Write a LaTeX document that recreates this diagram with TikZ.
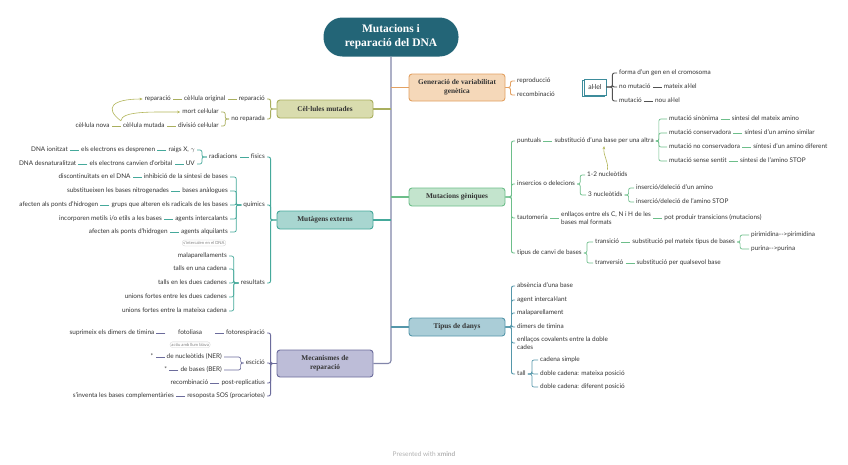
\documentclass[tikz,border=0pt]{standalone}
\usepackage{fontspec}
\setmainfont{Lato}[Ligatures={TeX,NoCommon}]
\newfontfamily\slabfont{Liberation Serif}
\usepackage{tikz}
\usetikzlibrary{positioning, arrows.meta, shadows}

\definecolor{txt}{HTML}{333333}
\definecolor{rootfill}{HTML}{236577}
\definecolor{trunk}{HTML}{8286AA}
\definecolor{genfill}{HTML}{F5D8B9}
\definecolor{gendraw}{HTML}{E3A162}
\definecolor{celfill}{HTML}{D9DCAE}
\definecolor{celdraw}{HTML}{A9AF5E}
\definecolor{mutfill}{HTML}{A8D6D0}
\definecolor{mutdraw}{HTML}{45A99B}
\definecolor{gnqfill}{HTML}{C3E4CD}
\definecolor{gnqdraw}{HTML}{6DBE8A}
\definecolor{tipfill}{HTML}{AACDD7}
\definecolor{tipdraw}{HTML}{5597AA}
\definecolor{mecfill}{HTML}{BDBDD8}
\definecolor{mecdraw}{HTML}{6C6C9C}
\definecolor{alldraw}{HTML}{3D8C9B}
\definecolor{relcol}{HTML}{B3B65A}
\definecolor{tagdraw}{HTML}{CFCFCF}

\begin{document}
\begin{tikzpicture}[
    x=1pt, y=-1pt,
    node distance=9pt,
    rootbox/.style={fill=rootfill, rounded corners=19pt, minimum width=135pt, minimum height=39pt,
                    text=white, font=\slabfont\bfseries\fontsize{11.5}{14}\selectfont, align=center},
    topic/.style={draw, rounded corners=3pt, line width=0.9pt, minimum width=96pt, minimum height=18pt,
                  font=\slabfont\bfseries\fontsize{7.3}{8.6}\selectfont, text=txt, align=center, inner sep=2pt},
    leafbase/.style={font=\fontsize{6.4}{7.4}\selectfont, text=txt, inner sep=2pt},
    leaf/.style={leafbase, text height=4.8pt, text depth=1.2pt},
    leaftwo/.style={leafbase, align=left},
    tag/.style={draw=tagdraw, rounded corners=2.5pt, font=\fontsize{4.2}{5}\selectfont, text=gray,
                inner sep=1.3pt, line width=0.3pt},
    allelbox/.style={draw=alldraw, fill=white, line width=0.8pt, minimum width=22pt, minimum height=16pt,
                     font=\fontsize{6.8}{8}\selectfont, text=txt, inner sep=1pt},
    trunklink/.style={line width=1.1pt},
    brlink/.style={line width=0.9pt, rounded corners=2pt},
    link/.style={line width=0.7pt, rounded corners=2pt},
    rel/.style={-{Stealth[length=3pt,width=2.6pt]}, line width=0.6pt, relcol},
]

\fill[white] (0,0) rectangle (848,464);

% === Root and main topics ===
\node[rootbox] (root) at (391,37) {Mutacions i\\reparació del DNA};

\node[topic, fill=genfill, draw=gendraw, minimum height=27pt] (gen) at (457,87.5) {Generació de variabilitat\\genètica};
\node[topic, fill=celfill, draw=celdraw] (cel) at (325,109) {Cèl·lules mutades};
\node[topic, fill=mutfill, draw=mutdraw] (mut) at (325,220) {Mutàgens externs};
\node[topic, fill=gnqfill, draw=gnqdraw] (gnq) at (457,197) {Mutacions gèniques};
\node[topic, fill=tipfill, draw=tipdraw] (tip) at (457,327) {Tipus de danys};
\node[topic, fill=mecfill, draw=mecdraw, minimum height=27pt] (mec) at (325,363.5) {Mecanismes de\\reparació};

\draw[trunklink, trunk, rounded corners=3pt] (root.south) |- (mec.east);
\draw[trunklink, gendraw] (root.south |- gen.west) -- (gen.west);
\draw[trunklink, celdraw] (root.south |- cel.east) -- (cel.east);
\draw[trunklink, mutdraw] (root.south |- mut.east) -- (mut.east);
\draw[trunklink, gnqdraw] (root.south |- gnq.west) -- (gnq.west);
\draw[trunklink, tipdraw] (root.south |- tip.west) -- (tip.west);

% === Generacio de variabilitat ===
\node[leaf, anchor=west] (repro) at (515,81) {reproducció};
\node[leaf, anchor=west] (recomb) at (515,95) {recombinació};
\draw[brlink, gendraw] (gen.east) -- ++(5,0) |- (repro.west);
\draw[brlink, gendraw] (gen.east) -- ++(5,0) |- (recomb.west);

% === al.lel (floating) ===
\node[allelbox, general shadow={shadow xshift=-1.8pt, shadow yshift=-1.8pt, draw=alldraw, fill=white, line width=0.8pt}] (allel) at (595,87) {al·lel};
\node[leaf, anchor=west] (forma) at (617,73) {forma d'un gen en el cromosoma};
\node[leaf, anchor=west] (nomut) at (617,87) {no mutació};
\node[leaf, right=of nomut] (mateix) {mateix al·lel};
\node[leaf, anchor=west] (mutac) at (617,101) {mutació};
\node[leaf, right=of mutac] (nou) {nou al·lel};
\foreach \c in {forma, nomut, mutac}
    \draw[brlink, txt!85] (allel.east) -- ++(6,0) |- (\c.west);
\draw[link, txt!85] (nomut) -- (mateix);
\draw[link, txt!85] (mutac) -- (nou);

% === Cel.lules mutades ===
\node[leaf, anchor=east] (rep1) at (267,99) {reparació};
\node[leaf, left=of rep1] (orig) {cèl·lula original};
\node[leaf, left=of orig] (rep2) {reparació};
\node[leaf, anchor=east] (norep) at (267,119) {no reparada};
\node[leaf, anchor=east] (mort) at (221,112) {mort cel·lular};
\node[leaf, anchor=east] (divis) at (221,126) {divisió cel·lular};
\node[leaf, left=of divis] (cmut) {cèl·lula mutada};
\node[leaf, left=of cmut] (cnova) {cèl·lula nova};

\draw[brlink, celdraw] (cel.west) -- ++(-6,0) |- (rep1.east);
\draw[brlink, celdraw] (cel.west) -- ++(-6,0) |- (norep.east);
\draw[link, celdraw] (norep.west) -- ++(-4,0) |- (mort.east);
\draw[link, celdraw] (norep.west) -- ++(-4,0) |- (divis.east);
\draw[link, celdraw] (rep1) -- (orig);
\draw[link, celdraw] (orig) -- (rep2);
\draw[link, celdraw] (divis) -- (cmut);
\draw[link, celdraw] (cmut) -- (cnova);

\draw[rel] (cmut.north west) .. controls (104,108) and (112,99) .. (rep2.west);
\draw[rel] (cmut.north west) .. controls (122,111) and (150,112) .. (mort.west);

% === Mutagens externs: fisics ===
\node[leaf, anchor=east] (fis) at (267,157) {fisics};
\node[leaf, left=of fis] (rad) {radiacions};
\node[leaf, anchor=east] (raigs) at (197,150) {raigs X, $\gamma$};
\node[leaf, left=of raigs] (desp) {els electrons es desprenen};
\node[leaf, left=of desp] (ionit) {DNA ionitzat};
\node[leaf, anchor=east] (uv) at (197,164) {UV};
\node[leaf, left=of uv] (orbit) {els electrons canvien d'orbital};
\node[leaf, left=of orbit] (desnat) {DNA desnaturalitzat};

\draw[link, mutdraw] (fis) -- (rad);
\draw[link, mutdraw] (rad.west) -- ++(-5,0) |- (raigs.east);
\draw[link, mutdraw] (rad.west) -- ++(-5,0) |- (uv.east);
\draw[link, mutdraw] (raigs) -- (desp);
\draw[link, mutdraw] (desp) -- (ionit);
\draw[link, mutdraw] (uv) -- (orbit);
\draw[link, mutdraw] (orbit) -- (desnat);

% === Mutagens externs: quimics ===
\node[leaf, anchor=east] (quim) at (267,205) {químics};
\node[leaf, anchor=east] (inhib) at (230,177) {inhibició de la síntesi de bases};
\node[leaf, left=of inhib] (disc) {discontinuïtats en el DNA};
\node[leaf, anchor=east] (analeg) at (230,191) {bases anàlogues};
\node[leaf, left=of analeg] (substN) {substitueixen les bases nitrogenades};
\node[leaf, anchor=east] (grups) at (230,205) {grups que alteren els radicals de les bases};
\node[leaf, left=of grups] (pontsA) {afecten als ponts d'hidrogen};
\node[leaf, anchor=east] (interc) at (230,219) {agents intercalants};
\node[leaf, left=of interc] (metils) {incorporen metils i/o etils a les bases};
\node[leaf, anchor=east] (alquil) at (230,232) {agents alquilants};
\node[leaf, left=of alquil] (pontsB) {afecten als ponts d'hidrogen};
\node[tag] (tagint) at (204,243) {s'intercalen en el DNA};

\foreach \c in {inhib, analeg, grups, interc, alquil}
    \draw[link, mutdraw] (quim.west) -- ++(-5,0) |- (\c.east);
\draw[link, mutdraw] (inhib) -- (disc);
\draw[link, mutdraw] (analeg) -- (substN);
\draw[link, mutdraw] (grups) -- (pontsA);
\draw[link, mutdraw] (interc) -- (metils);
\draw[link, mutdraw] (alquil) -- (pontsB);

% === Mutagens externs: resultats ===
\node[leaf, anchor=east] (result) at (267,283) {resultats};
\node[leaf, anchor=east] (malap) at (229,256) {malaparellaments};
\node[leaf, anchor=east] (tallU) at (229,269) {talls en una cadena};
\node[leaf, anchor=east] (tallD) at (229,283) {talls en les dues cadenes};
\node[leaf, anchor=east] (unionD) at (229,297) {unions fortes entre les dues cadenes};
\node[leaf, anchor=east] (unionM) at (229,311) {unions fortes entre la mateixa cadena};
\foreach \c in {malap, tallU, tallD, unionD, unionM}
    \draw[link, mutdraw] (result.west) -- ++(-5,0) |- (\c.east);

\foreach \c in {fis, quim, result}
    \draw[brlink, mutdraw] (mut.west) -- ++(-6,0) |- (\c.east);

% === Mecanismes de reparacio ===
\node[leaf, anchor=east] (fotor) at (267,333) {fotorespiració};
\node[leaf, left=of fotor, minimum width=49pt] (fotol) {fotoliasa};
\node[tag, below=3.5pt of fotol] (tagblau) {actiu amb llum blava};
\node[leaf, left=of fotol] (dimers) {suprimeix els dimers de timina};
\node[leaf, anchor=east] (escic) at (267,363) {escició};
\node[leaf, anchor=east] (nucl) at (224,357) {de nucleòtids (NER)};
\node[leaf, left=of nucl] (astA) {*};
\node[leaf, anchor=east] (basB) at (224,370) {de bases (BER)};
\node[leaf, left=of basB] (astB) {*};
\node[leaf, anchor=east] (postr) at (267,383) {post-replicatius};
\node[leaf, left=of postr] (recombM) {recombinació};
\node[leaf, anchor=east] (sos) at (267,396) {resoposta SOS (procariotes)};
\node[leaf, left=of sos] (inventa) {s'inventa les bases complementàries};

\foreach \c in {fotor, escic, postr, sos}
    \draw[brlink, mecdraw] (mec.west) -- ++(-6,0) |- (\c.east);
\draw[link, mecdraw] (escic.west) -- ++(-3,0) |- (nucl.east);
\draw[link, mecdraw] (escic.west) -- ++(-3,0) |- (basB.east);
\draw[link, mecdraw] (fotor) -- (fotol);
\draw[link, mecdraw] (fotol) -- (dimers);
\draw[link, mecdraw] (nucl) -- (astA);
\draw[link, mecdraw] (basB) -- (astB);
\draw[link, mecdraw] (postr) -- (recombM);
\draw[link, mecdraw] (sos) -- (inventa);

% === Mutacions geniques ===
\node[leaf, anchor=west] (punt) at (515,141) {puntuals};
\node[leaf, right=of punt] (substB) {substitució d'una base per una altra};
\node[leaf, anchor=west] (sinon) at (667,119) {mutació sinònima};
\node[leaf, right=of sinon] (sinonR) {síntesi del mateix amino};
\node[leaf, anchor=west] (consv) at (667,133) {mutació conservadora};
\node[leaf, right=of consv] (consvR) {síntesi d'un amino similar};
\node[leaf, anchor=west] (nocons) at (667,147) {mutació no conservadora};
\node[leaf, right=of nocons] (noconsR) {síntesi d'un amino diferent};
\node[leaf, anchor=west] (sense) at (667,161) {mutació sense sentit};
\node[leaf, right=of sense] (senseR) {síntesi de l'amino STOP};

\draw[link, gnqdraw] (punt) -- (substB);
\foreach \c in {sinon, consv, nocons, sense}
    \draw[link, gnqdraw] (substB.east) -- ++(3,0) |- (\c.west);
\draw[link, gnqdraw] (sinon) -- (sinonR);
\draw[link, gnqdraw] (consv) -- (consvR);
\draw[link, gnqdraw] (nocons) -- (noconsR);
\draw[link, gnqdraw] (sense) -- (senseR);

\node[leaf, anchor=west] (inser) at (515,184) {insercios o delecions};
\node[leaf, anchor=west] (nuc12) at (585,175) {1-2 nucleòtids};
\node[leaf, anchor=west] (nuc3) at (586,195) {3 nucleòtids};
\node[leaf, anchor=west] (insA) at (634,188) {inserció/deleció d'un amino};
\node[leaf, anchor=west] (insB) at (634,202) {inserció/deleció de l'amino STOP};
\draw[link, gnqdraw] (inser.east) -- ++(3,0) |- (nuc12.west);
\draw[link, gnqdraw] (inser.east) -- ++(3,0) |- (nuc3.west);
\draw[link, gnqdraw] (nuc3.east) -- ++(4,0) |- (insA.west);
\draw[link, gnqdraw] (nuc3.east) -- ++(4,0) |- (insB.west);

\draw[rel] (nuc12.north) .. controls (609,162) and (603,156) .. (substB.south);

\node[leaf, anchor=west] (tauto) at (515,218) {tautomeria};
\node[leaftwo, right=of tauto] (enll) {enllaços entre els C, N i H de les\\bases mal formats};
\node[leaf, right=of enll] (transM) {pot produir transicions (mutacions)};
\draw[link, gnqdraw] (tauto) -- (enll);
\draw[link, gnqdraw] (enll) -- (transM);

\node[leaf, anchor=west] (canvi) at (515,253) {tipus de canvi de bases};
\node[leaf, anchor=west] (transi) at (593,242) {transició};
\node[leaf, right=of transi] (mateixT) {substitució pel mateix tipus de bases};
\node[leaf, anchor=west] (pirim) at (749,235) {pirimidina-{}->pirimidina};
\node[leaf, anchor=west] (purin) at (749,249) {purina-{}->purina};
\node[leaf, anchor=west] (tranv) at (593,263) {tranversió};
\node[leaf, right=of tranv] (qualsev) {substitució per qualsevol base};
\draw[link, gnqdraw] (canvi.east) -- ++(3,0) |- (transi.west);
\draw[link, gnqdraw] (canvi.east) -- ++(3,0) |- (tranv.west);
\draw[link, gnqdraw] (transi) -- (mateixT);
\draw[link, gnqdraw] (tranv) -- (qualsev);
\draw[link, gnqdraw] (mateixT.east) -- ++(3,0) |- (pirim.west);
\draw[link, gnqdraw] (mateixT.east) -- ++(3,0) |- (purin.west);

\foreach \c in {punt, inser, tauto, canvi}
    \draw[brlink, gnqdraw] (gnq.east) -- ++(6,0) |- (\c.west);

% === Tipus de danys ===
\node[leaf, anchor=west] (absen) at (515,286) {absència d'una base};
\node[leaf, anchor=west] (agent) at (515,300) {agent intercal·lant};
\node[leaf, anchor=west] (malap2) at (515,313) {malaparellament};
\node[leaf, anchor=west] (dimer2) at (515,327) {dimers de timina};
\node[leaftwo, anchor=west] (enllC) at (515,343) {enllaços covalents entre la doble\\cades};
\node[leaf, anchor=west] (tall) at (515,374) {tall};
\node[leaf, anchor=west] (simple) at (538,360) {cadena simple};
\node[leaf, anchor=west] (mateixP) at (538,374) {doble cadena: mateixa posició};
\node[leaf, anchor=west] (diferP) at (538,387) {doble cadena: diferent posició};

\foreach \c in {absen, agent, malap2, dimer2, enllC, tall}
    \draw[brlink, tipdraw] (tip.east) -- ++(6,0) |- (\c.west);
\foreach \c in {simple, mateixP, diferP}
    \draw[link, tipdraw] (tall.east) -- ++(4,0) |- (\c.west);

% === Footer ===
\node[font=\fontsize{6.5}{8}\selectfont, text=black!30] (foot) at (424,454) {Presented with \textbf{xmind}};

\end{tikzpicture}
\end{document}
